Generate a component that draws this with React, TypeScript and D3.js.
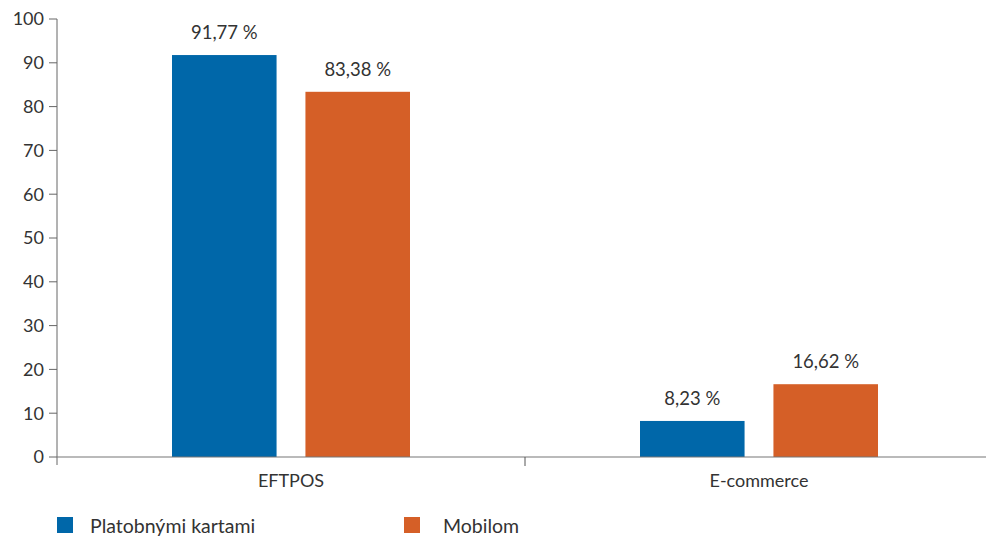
import React from "react";
import * as d3 from "d3";

const categories = ["EFTPOS", "E-commerce"];
const seriesNames = ["Platobnými kartami", "Mobilom"];
const cardValues = [91.77, 8.23];
const mobileValues = [83.38, 16.62];
const yTicks = [0, 10, 20, 30, 40, 50, 60, 70, 80, 90, 100];
const colors = ["#0067A9", "#D55F27"];

const W = 986, H = 536;
const FONT = "Lato, 'Open Sans', sans-serif";
const fmt = (v: number) => v.toFixed(2).replace(".", ",") + " %";

export default function App() {
  const x = d3.scaleBand<string>().domain(categories).range([57, 993]).padding(0);
  const x1 = d3.scaleBand<string>().domain(seriesNames).range([115, 353]).paddingInner(29 / 134).paddingOuter(0);
  const y = d3.scaleLinear().domain([0, 100]).range([457, 19]);
  const series = [cardValues, mobileValues];

  return (
    <svg width={W} height={H} style={{ position: "absolute", left: 0, top: 0 }} fontFamily={FONT}>
      <rect width={W} height={H} fill="#fff" />
      {/* y axis */}
      <line x1={57} x2={57} y1={19} y2={465} stroke="#666" strokeWidth={1} />
      {yTicks.map((t) => (
        <g key={t}>
          <line x1={49} x2={57} y1={y(t)} y2={y(t)} stroke="#666" />
          <text x={44} y={y(t)} dy="0.35em" textAnchor="end" fontSize={18} fill="#333">{t}</text>
        </g>
      ))}
      {/* bars */}
      {categories.map((c, ci) => (
        <g key={c}>
          {seriesNames.map((s, si) => {
            const v = series[si][ci];
            const bx = (x(c) as number) + (x1(s) as number);
            return (
              <g key={s}>
                <rect x={bx} y={y(v)} width={x1.bandwidth()} height={y(0) - y(v)} fill={colors[si]} />
                <text x={bx + x1.bandwidth() / 2} y={y(v) - 16} textAnchor="middle" fontSize={18.5} fill="#333">{fmt(v)}</text>
              </g>
            );
          })}
        </g>
      ))}
      {/* x axis */}
      <line x1={57} x2={993} y1={457} y2={457} stroke="#777" strokeWidth={1.2} />
      <line x1={525} x2={525} y1={457} y2={466} stroke="#555" />
      {categories.map((c) => (
        <text key={c} x={(x(c) as number) + x.bandwidth() / 2} y={487} textAnchor="middle" fontSize={18} fill="#333">{c}</text>
      ))}
      {/* legend */}
      {seriesNames.map((s, i) => {
        const lx = [57, 404][i];
        const tx = [90, 443][i];
        return (
          <g key={s}>
            <rect x={lx} y={517} width={16} height={16} fill={colors[i]} />
            <text x={tx} y={533} fontSize={19.5} fill="#333">{s}</text>
          </g>
        );
      })}
    </svg>
  );
}
